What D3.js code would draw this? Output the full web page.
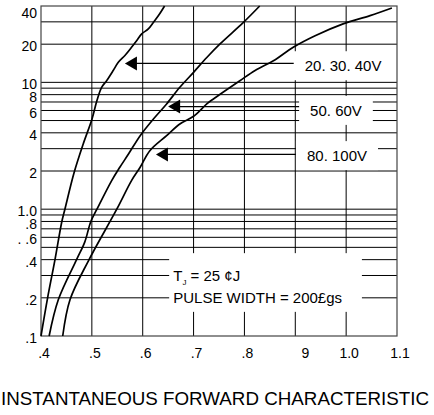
<!DOCTYPE html>
<html>
<head>
<meta charset="utf-8">
<script src="https://cdn.jsdelivr.net/npm/d3@7"></script>
<style>
  body { margin: 0; background: #fff; }
  text { font-family: "Liberation Sans", Arial, Helvetica, sans-serif; fill: #000; }
</style>
</head>
<body>
<svg width="434" height="415"></svg>
<script>
// forward voltage (V) on x, forward current (A) on y (log)
const xTickValues = [0.4, 0.5, 0.6, 0.7, 0.8, 0.9, 1.0, 1.1];
const xTickLabels = ['.4', '.5', '.6', '.7', '.8', '9', '1.0', '1.1'];
const yTickValues = [40, 20, 10, 8, 6, 4, 2, 1, 0.8, 0.6, 0.4, 0.2, 0.1];
const yTickLabels = ['40', '20', '10', '8', '6', '4', '2', '1.0', '.8', '. .6', '.4', '.2', '.1'];
const yGridValues = [0.2, 0.3, 0.4, 0.5, 0.6, 0.7, 0.8, 0.9, 1, 2, 3, 4, 5, 6, 7, 8, 9, 10, 20, 30];
const xGridValues = [0.5, 0.6, 0.7, 0.8, 0.9, 1.0];

const curve20_40V = [[0.4, 0.1], [0.413, 0.2], [0.4275, 0.4], [0.441, 0.8], [0.447, 1.0], [0.465, 1.94],
  [0.483, 3.27], [0.5, 5.1], [0.51, 7.2], [0.519, 9.1], [0.529, 10.3], [0.542, 12.4], [0.552, 14.4],
  [0.565, 16.3], [0.578, 18.9], [0.588, 21.3], [0.598, 24.1], [0.611, 26.4], [0.621, 29.7],
  [0.631, 33.6], [0.643, 40]];
const curve50_60V = [[0.416, 0.1], [0.434, 0.193], [0.47, 0.4], [0.486, 0.55], [0.498, 0.8], [0.51, 1.0],
  [0.539, 1.68], [0.555, 2.14], [0.572, 2.72], [0.595, 3.8], [0.621, 5.14], [0.647, 6.76],
  [0.673, 9.14], [0.7, 12.0], [0.726, 15.7], [0.752, 20.1], [0.798, 29.7], [0.83, 40]];
const curve80_100V = [[0.4427, 0.1], [0.457, 0.193], [0.493, 0.39], [0.549, 1.0], [0.578, 1.68],
  [0.595, 2.14], [0.614, 2.89], [0.647, 3.8], [0.673, 4.7], [0.7, 5.4], [0.726, 6.76], [0.739, 7.4],
  [0.791, 10.3], [0.821, 12.4], [0.857, 14.8], [0.896, 18.9], [0.939, 23.3], [0.994, 28.9],
  [1.047, 33.6], [1.09, 38.6]];

const seriesLabels = ['20. 30. 40V', '50. 60V', '80. 100V'];
const labelAnchors = [[0.994, 13.5], [0.98, 6.0], [0.982, 2.64]];
const arrowTips = [[0.565, 14.1], [0.65, 6.44], [0.626, 2.7]];

const noteAnchorX = 0.66;
const noteRows = [0.3, 0.2];
const noteBox = { x0: 0.652, x1: 1.031, y0: 0.155, y1: 0.45 };

const title = 'INSTANTANEOUS FORWARD CHARACTERISTIC';

const svg = d3.select('svg');
const width = +svg.attr('width');
const height = +svg.attr('height');
const margin = { top: 6, right: 37, bottom: 79, left: 41 };
const innerWidth = width - margin.left - margin.right;
const innerHeight = height - margin.top - margin.bottom;

svg.append('rect').attr('width', width).attr('height', height).attr('fill', '#fff');

const xScale = d3.scaleLinear().domain([0.4, 1.1]).range([0, innerWidth]);
const yScale = d3.scaleLog().domain([0.1, 40]).range([innerHeight, 0]);

const g = svg.append('g')
  .attr('transform', `translate(${margin.left},${margin.top})`);

// grid
g.append('g').selectAll('line').data(yGridValues)
  .enter().append('line')
    .attr('x1', 0).attr('x2', innerWidth)
    .attr('y1', d => yScale(d)).attr('y2', d => yScale(d))
    .attr('stroke', '#000').attr('stroke-width', 1);

g.append('g').selectAll('line').data(xGridValues)
  .enter().append('line')
    .attr('y1', 0).attr('y2', innerHeight)
    .attr('x1', d => xScale(d)).attr('x2', d => xScale(d))
    .attr('stroke', '#000').attr('stroke-width', 1);

// arrow shafts, run under the label boxes
g.append('g').selectAll('line').data(arrowTips)
  .enter().append('line')
    .attr('x1', d => xScale(d[0]) + 8)
    .attr('x2', (d, i) => xScale(labelAnchors[i][0]))
    .attr('y1', d => yScale(d[1])).attr('y2', d => yScale(d[1]))
    .attr('stroke', '#000').attr('stroke-width', 1.3);

// note box
g.append('rect')
  .attr('x', xScale(noteBox.x0))
  .attr('y', yScale(noteBox.y1))
  .attr('width', xScale(noteBox.x1) - xScale(noteBox.x0))
  .attr('height', yScale(noteBox.y0) - yScale(noteBox.y1))
  .attr('fill', '#fff');

// series labels with white boxes
const labelG = g.append('g').selectAll('g').data(seriesLabels)
  .enter().append('g')
    .attr('transform', (d, i) =>
      `translate(${xScale(labelAnchors[i][0])},${yScale(labelAnchors[i][1])})`);

labelG.append('rect').attr('fill', '#fff');
labelG.append('text')
    .attr('text-anchor', 'middle')
    .attr('dy', '0.36em')
    .attr('font-size', 15)
    .text(d => d);
labelG.each(function() {
  const grp = d3.select(this);
  const bb = grp.select('text').node().getBBox();
  grp.select('rect')
    .attr('x', bb.x - 11).attr('y', bb.y - 6)
    .attr('width', bb.width + 22).attr('height', bb.height + 12);
});

// note text
const note = g.append('g').attr('font-size', 15);
const tj = note.append('text')
  .attr('x', xScale(noteAnchorX)).attr('y', yScale(noteRows[0]))
  .attr('dy', '0.36em');
tj.append('tspan').text('T');
tj.append('tspan').attr('font-size', 8).attr('dy', 4).text('J');
tj.append('tspan').attr('dy', -4).text('  = 25 ¢J');
note.append('text')
  .attr('x', xScale(noteAnchorX)).attr('y', yScale(noteRows[1]))
  .attr('dy', '0.36em')
  .text('PULSE WIDTH = 200£gs');

// frame
g.append('rect')
  .attr('width', innerWidth).attr('height', innerHeight)
  .attr('fill', 'none').attr('stroke', '#444').attr('stroke-width', 1.2);

// curves
const lineGenerator = d3.line()
  .x(d => xScale(d[0]))
  .y(d => yScale(d[1]))
  .curve(d3.curveCatmullRom.alpha(0.5));

g.append('g').selectAll('path').data([curve20_40V, curve50_60V, curve80_100V])
  .enter().append('path')
    .attr('d', lineGenerator)
    .attr('fill', 'none')
    .attr('stroke', '#000')
    .attr('stroke-width', 1.7);

// arrow heads
g.append('g').selectAll('path').data(arrowTips)
  .enter().append('path')
    .attr('transform', d => `translate(${xScale(d[0])},${yScale(d[1])})`)
    .attr('d', 'M0,0L12,-7L12,7Z')
    .attr('fill', '#000');

// tick labels
g.append('g').selectAll('text').data(yTickValues)
  .enter().append('text')
    .attr('x', -4)
    .attr('y', d => Math.max(yScale(d) + 2, 7))
    .attr('dy', '0.36em')
    .attr('text-anchor', 'end')
    .attr('font-size', 14)
    .text((d, i) => yTickLabels[i]);

g.append('g').selectAll('text').data(xTickValues)
  .enter().append('text')
    .attr('x', (d, i) => xScale(d) + (xTickLabels[i] === '9' ? 10 : 3))
    .attr('y', innerHeight + 22)
    .attr('text-anchor', 'middle')
    .attr('font-size', 14)
    .text((d, i) => xTickLabels[i]);

svg.append('text')
  .attr('x', 1)
  .attr('y', 405)
  .attr('font-size', 18.6)
  .attr('textLength', 428)
  .attr('lengthAdjust', 'spacingAndGlyphs')
  .text(title);
</script>
</body>
</html>
